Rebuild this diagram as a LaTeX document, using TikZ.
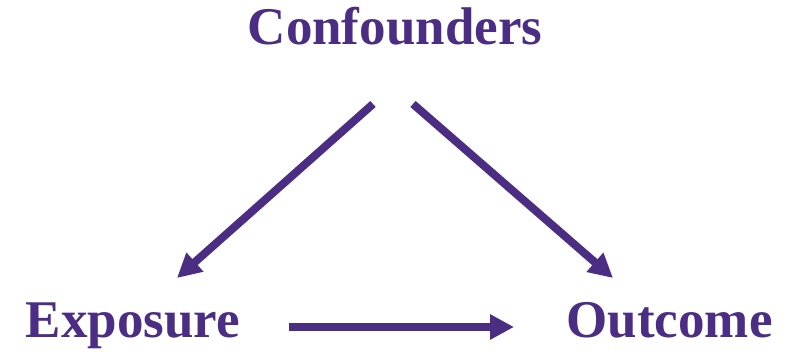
\documentclass[tikz,border=0pt]{standalone}
\usepackage{fontspec}
\setmainfont{Liberation Serif}
\usetikzlibrary{arrows.meta}
\definecolor{dagpurple}{RGB}{75,46,131}
\tikzset{
  label/.style={text=dagpurple, font=\fontsize{53}{60}\selectfont\bfseries, inner sep=0pt, anchor=base},
  arr/.style={draw=dagpurple, line width=8pt, -{Triangle[length=24pt,width=24pt]}}
}
\begin{document}
\begin{tikzpicture}[x=1pt,y=-1pt]
\useasboundingbox[fill=white] (0,0) rectangle (795,352);
\node[label] (conf) at (395,45) {Confounders};
\node[label] (expo) at (133,338) {Exposure};
\node[label] (outc) at (669.5,338) {Outcome};
\coordinate (confL) at (373,104);
\coordinate (confR) at (413,104);
\coordinate (expoT) at (177,278);
\coordinate (outcT) at (613,278);
\coordinate (expoR) at (289,327);
\coordinate (outcL) at (514,327);
\draw[arr] (confL) -- (expoT);
\draw[arr] (confR) -- (outcT);
\draw[arr] (expoR) -- (outcL);
\end{tikzpicture}
\end{document}
